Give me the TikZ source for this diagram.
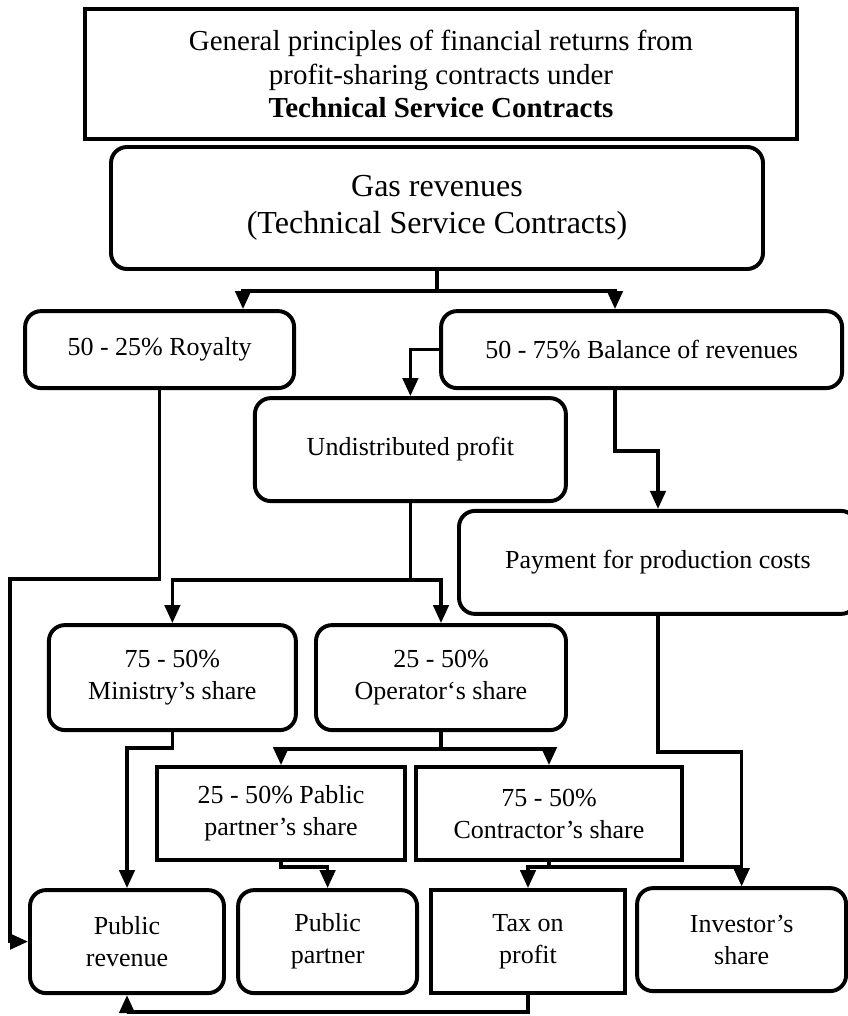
\documentclass[tikz,border=0pt]{standalone}
\usepackage{fontspec}
\setmainfont{Liberation Serif}
\usepackage{tikz}
\usetikzlibrary{arrows.meta}
\tikzset{box/.style={draw, line width=2.8pt, align=center, inner sep=2pt, font=\fontsize{18.5}{22.8}\selectfont}}
\tikzset{rbox/.style={box, rounded corners=0.4cm}}
\tikzset{arr/.style={line width=2.6pt, -{Triangle[length=0.45cm,width=0.38cm]}}}

\begin{document}
\begin{tikzpicture}
\useasboundingbox (0,0) rectangle (21.2,-25.4);
\node[box, line width=3.2pt, minimum width=17.8cm, minimum height=3.25cm, font=\fontsize{20.6}{23.8}\selectfont] (title) at (11.025,-1.85) {General principles of financial returns from\\ profit-sharing contracts under\\ \textbf{Technical Service Contracts}};
\node[rbox, minimum width=16.3cm, minimum height=3.05cm, font=\fontsize{22.8}{26.3}\selectfont] (gas) at (10.925,-5.2) {Gas revenues\\ (Technical Service Contracts)};
\node[rbox, minimum width=6.725cm, minimum height=1.925cm] (royalty) at (3.99,-8.74) {50 - 25\% Royalty};
\node[rbox, minimum width=10.025cm, minimum height=1.925cm] (balance) at (16.04,-8.74) {50 - 75\% Balance of revenues};
\node[rbox, minimum width=7.775cm, minimum height=2.575cm] (undist) at (10.26,-11.24) {Undistributed profit};
\node[rbox, minimum width=9.95cm, minimum height=2.575cm] (payment) at (16.45,-14.06) {Payment for production costs};
\node[rbox, minimum width=6.175cm, minimum height=2.625cm] (ministry) at (4.31,-16.94) {75 - 50\%\\ Ministry’s share};
\node[rbox, minimum width=6.25cm, minimum height=2.625cm] (operator) at (11.025,-16.94) {25 - 50\%\\ Operator‘s share};
\node[box, minimum width=6.2cm, minimum height=2.325cm] (pablic) at (7.025,-20.34) {25 - 50\% Pablic\\ partner’s share};
\node[box, minimum width=6.65cm, minimum height=2.325cm] (contractor) at (13.725,-20.34) {75 - 50\%\\ Contractor’s share};
\node[rbox, minimum width=4.85cm, minimum height=2.575cm] (pubrev) at (3.175,-23.54) {Public\\ revenue};
\node[rbox, minimum width=4.475cm, minimum height=2.575cm] (pubpartner) at (8.19,-23.54) {Public\\ partner};
\node[box, minimum width=4.85cm, minimum height=2.575cm] (tax) at (13.2,-23.54) {Tax on\\ profit};
\node[rbox, minimum width=5.225cm, minimum height=2.575cm] (investor) at (18.54,-23.49) {Investor’s\\ share};

% junction points
\coordinate (g1) at (6.075,-7.275);
\coordinate (g2) at (15.375,-7.275);
\coordinate (b1) at (15.375,-11.275);
\coordinate (r1) at (0.25,-14.475);
\coordinate (u1) at (10.26,-14.5);
\coordinate (m1) at (4.31,-18.7);
\coordinate (o1) at (11.025,-18.725);
\coordinate (p1) at (16.45,-18.8);
\coordinate (q1) at (7.025,-21.675);
\coordinate (c1) at (13.725,-21.675);
\coordinate (t1) at (13.2,-25.3);

\draw[arr] (gas.south) |- (g1) -- (g1 |- royalty.north);
\draw[arr] (gas.south) |- (g2) -- (g2 |- balance.north);
\draw[arr] (balance.west) -| (undist.north);
\draw[arr] (b1 |- balance.south) -- (b1) -| (payment.north);
\draw[arr] (royalty.south) |- (r1) |- (pubrev.west);
\draw[arr] (undist.south) -- (u1) -| (ministry.north);
\draw[arr] (u1) -| (operator.north);
\draw[arr] (ministry.south) -- (m1) -| (pubrev.north);
\draw[arr] (operator.south) -- (o1) -| (pablic.north);
\draw[arr] (o1) -| (contractor.north);
\draw[arr] (payment.south) -- (p1) -| (investor.north);
\draw[arr] (pablic.south) -- (q1) -| (pubpartner.north);
\draw[arr] (contractor.south) -- (c1) -| (tax.north);
\draw[arr] (c1) -| (investor.north);
\draw[arr] (tax.south) -- (t1) -| (pubrev.south);
\end{tikzpicture}
\end{document}
